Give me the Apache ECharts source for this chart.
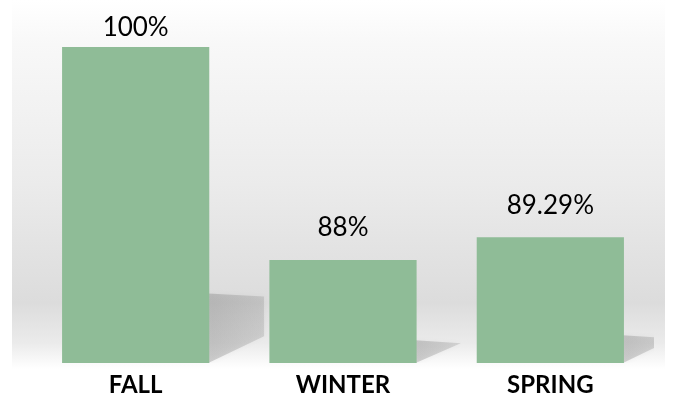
<!DOCTYPE html>
<html>
<head>
<meta charset="utf-8">
<script src="https://cdn.jsdelivr.net/npm/echarts@6/dist/echarts.min.js"></script>
<style>html,body{margin:0;padding:0;background:#fff;}#c{width:678px;height:400px;}</style>
</head>
<body>
<div id="c"></div>
<script>
var categories = ['FALL', 'WINTER', 'SPRING'];
var values = [100, 88, 89.29];
var valueLabels = ['100%', '88%', '89.29%'];

var chart = echarts.init(document.getElementById('c'));
var AXIS_MIN = 82.2, AXIS_MAX = 100;

var barData = values.map(function (v, i) {
  var item = { value: v };
  if (i === 0) item.label = { distance: 6 };
  return item;
});

chart.setOption({
  animation: false,
  backgroundColor: '#ffffff',
  graphic: [{
    type: 'rect', z: -10, silent: true,
    shape: { x: 12, y: 0, width: 653, height: 369 },
    style: {
      fill: new echarts.graphic.LinearGradient(0, 0, 0, 1, [
        { offset: 0, color: '#ffffff' },
        { offset: 0.12, color: '#f8f8f8' },
        { offset: 0.5, color: '#ebebeb' },
        { offset: 0.82, color: '#dcdcdc' },
        { offset: 0.93, color: '#ebebeb' },
        { offset: 1, color: '#ffffff' }
      ])
    }
  }],
  grid: { left: 32, right: 24, top: 47, bottom: 37 },
  xAxis: {
    type: 'category',
    data: categories,
    axisLine: { show: false },
    axisTick: { show: false },
    axisLabel: {
      margin: 10,
      fontFamily: 'Lato',
      fontWeight: 'bold',
      fontSize: 24,
      color: '#000000'
    }
  },
  yAxis: {
    type: 'value',
    min: AXIS_MIN, max: AXIS_MAX,
    show: false,
    splitLine: { show: false }
  },
  series: [{
    type: 'custom',
    z: 1,
    clip: true,
    silent: true,
    data: values.map(function (v, i) { return [i, v]; }),
    renderItem: function (params, api) {
      var top = api.coord([api.value(0), api.value(1)]);
      var bot = api.coord([api.value(0), AXIS_MIN]);
      var band = api.size([1, 0])[0];
      var bw = band * 0.71;
      var R = top[0] + bw / 2 - 1;
      var B = bot[1];
      var h = B - top[1];
      var sh = 0.22 * h;
      var dx = 40 + 0.05 * h;
      var Ts = B - sh;
      var rightBottom = Math.max(Ts + 3, B - 0.48 * dx);
      return {
        type: 'polygon',
        shape: { points: [[R, B], [R, Ts], [R + dx, Ts + 3], [R + dx, rightBottom]] },
        style: {
          fill: new echarts.graphic.LinearGradient(0, 0, 1, 0, [
            { offset: 0, color: 'rgba(110,110,110,0.30)' },
            { offset: 1, color: 'rgba(110,110,110,0.20)' }
          ]),
          shadowBlur: 5,
          shadowColor: 'rgba(110,110,110,0.25)'
        }
      };
    }
  }, {
    type: 'bar',
    z: 2,
    data: barData,
    barWidth: '71%',
    itemStyle: { color: '#8fbc97' },
    label: {
      show: true,
      position: 'top',
      distance: 19,
      fontFamily: 'Lato',
      fontSize: 26,
      color: '#000000',
      formatter: function (p) { return valueLabels[p.dataIndex]; }
    }
  }]
});
</script>
</body>
</html>
